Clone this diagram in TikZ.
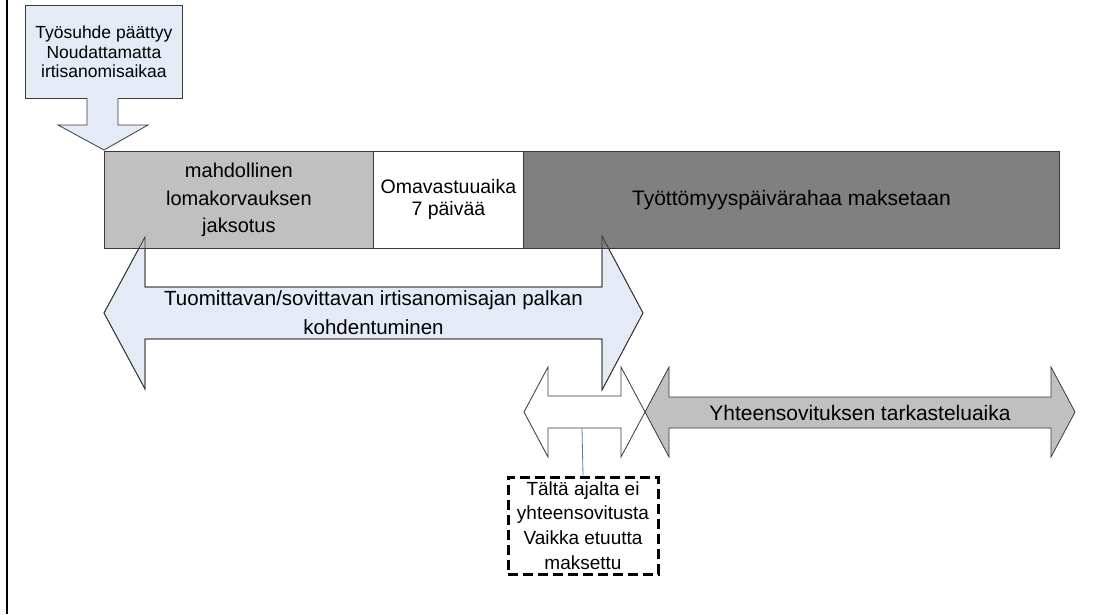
\documentclass[tikz,border=0pt]{standalone}
\usepackage{fontspec}
\setmainfont{Liberation Sans}
\definecolor{lblue}{HTML}{E4EBF6}
\definecolor{lgray}{HTML}{C0C0C0}
\definecolor{dgray}{HTML}{808080}
\definecolor{edge}{HTML}{3A3A3A}
\definecolor{conn}{HTML}{4A7BC8}
\begin{document}
\begin{tikzpicture}[x=1pt,y=-1pt,
  box/.style={draw=edge,line width=0.8pt,inner sep=0pt,anchor=north west,align=center,text=black},
  shapeline/.style={draw=edge,line width=0.8pt,line join=miter},
  lbl/.style={align=center,text=black,inner sep=0pt}]
\useasboundingbox (0,0) rectangle (1099,614);
\draw[line width=2pt] (7,0) -- (7,614);
\def\bigarrow{(104,313) -- (145,237) -- (145,287) -- (602,287) -- (602,236) -- (643,313) -- (602,390) -- (602,339) -- (145,339) -- (145,389) -- cycle}
% lower arrows
\path[shapeline,fill=white] (524,412) -- (548,367) -- (548,396) -- (621,396) -- (621,367) -- (645,412) -- (621,457) -- (621,428) -- (548,428) -- (548,457) -- cycle;
\path[shapeline,fill=lgray] (645,412) -- (669,367) -- (669,397) -- (1051,397) -- (1051,367) -- (1075,412) -- (1051,457) -- (1051,428) -- (669,428) -- (669,457) -- cycle;
% big arrow
\path[shapeline,fill=lblue] \bigarrow;
% top box and down arrow
\node[box,fill=lblue,minimum width=157,minimum height=93,font=\fontsize{17.5}{19.5}\selectfont] (start) at (25,5) {Työsuhde päättyy\\Noudattamatta\\irtisanomisaikaa};
\path[shapeline,fill=lblue] (87,98) -- (87,125) -- (58,125) -- (104,150) -- (148,125) -- (118,125) -- (118,98);
% timeline boxes
\node[box,fill=lgray,minimum width=269,minimum height=97,font=\fontsize{20}{27.5}\selectfont] (hol) at (104,151) {mahdollinen\\lomakorvauksen\\jaksotus};
\node[box,fill=white,minimum width=150,minimum height=97,font=\fontsize{19.5}{22}\selectfont] (oma) at (373,151) {Omavastuuaika\\7 päivää};
\node[box,fill=dgray,minimum width=536,minimum height=97,font=\fontsize{21}{24}\selectfont] (pay) at (523,151) {Työttömyyspäivärahaa maksetaan};
% big arrow outline over boxes
\path[shapeline] \bigarrow;
% labels
\node[lbl,font=\fontsize{20.5}{29}\selectfont] (tuom) at (373.5,313) {Tuomittavan/sovittavan irtisanomisajan palkan\\kohdentuminen};
\node[lbl,font=\fontsize{21}{24}\selectfont] (yht) at (860,413) {Yhteensovituksen tarkasteluaika};
\coordinate (wb) at (582,428);
\node[draw=black,line width=3pt,dash pattern=on 10pt off 5pt,fill=white,minimum width=150,minimum height=97,inner sep=0pt,align=center,font=\fontsize{19}{24.7}\selectfont] (note) at (583,525.5) {Tältä ajalta ei\\yhteensovitusta\\Vaikka etuutta\\maksettu};
\draw[conn,line width=0.8pt] (wb) -- (note.north);
\end{tikzpicture}
\end{document}
